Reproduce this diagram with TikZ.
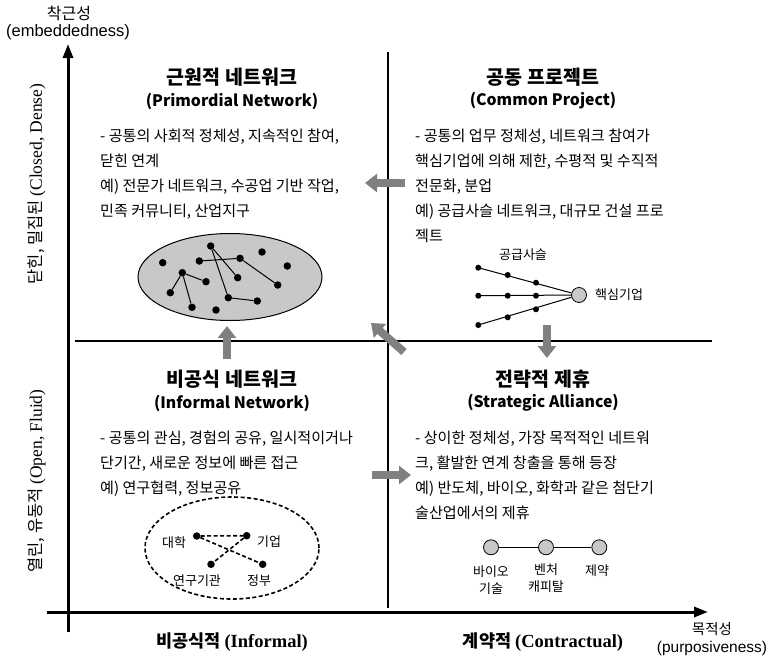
\documentclass[tikz,border=0pt]{standalone}
\usepackage{fontspec}
\setmainfont{Noto Sans CJK KR}
\newfontfamily\kr{Noto Sans CJK KR}
\newfontfamily\tms{Liberation Serif}
\newfontfamily\ars{Liberation Sans}
\usetikzlibrary{arrows.meta,shapes.geometric}
\definecolor{blkgray}{HTML}{808080}
\definecolor{fillgray}{HTML}{C8C8C8}
\tikzset{
  axisline/.style={line width=3pt},
  divline/.style={line width=1.1pt},
  ttlk/.style={font=\kr\bfseries\fontsize{19.5}{22}\selectfont, inner sep=0pt},
  ttle/.style={font=\kr\bfseries\fontsize{15.8}{18}\selectfont, inner sep=0pt},
  body/.style={font=\kr\fontsize{15.1}{25}\selectfont, align=left, anchor=north west, inner sep=0pt},
  dot/.style={circle, fill=black, inner sep=0pt, minimum size=7.5pt},
  sdot/.style={circle, fill=black, inner sep=0pt, minimum size=6pt},
  bigc/.style={circle, draw=black, fill=fillgray, line width=0.8pt, inner sep=0pt, minimum size=15pt},
  small/.style={font=\kr\fontsize{13}{16.5}\selectfont, inner sep=0pt, align=center},
  blockarrow/.style={draw=blkgray, line width=8pt, -{Triangle[width=18pt,length=12pt]}},
  edge/.style={line width=1pt},
  dedge/.style={line width=1.6pt, dash pattern=on 4pt off 2.5pt},
}
\begin{document}
\begin{tikzpicture}[x=1pt,y=-1pt]
\useasboundingbox (0,0) rectangle (772,659);

% axes
\coordinate (yb) at (68,632);
\coordinate (yt) at (68,44);
\coordinate (xl) at (47,612);
\coordinate (xr) at (708,612);
\draw[axisline, -{Triangle[width=10pt,length=14pt]}] (yb) -- (yt);
\draw[axisline, -{Triangle[width=10pt,length=14pt]}] (xl) -- (xr);

% dividers
\coordinate (vt) at (388,52);
\coordinate (vb) at (388,608);
\coordinate (hl) at (75,341);
\coordinate (hr) at (712,341);
\draw[divline] (vt) -- (vb);
\draw[divline] (hl) -- (hr);

% axis labels
\node[font=\kr\fontsize{16}{18}\selectfont, inner sep=0pt] (ylab1) at (69,13) {착근성};
\node[font=\ars\fontsize{16.5}{18}\selectfont, inner sep=0pt] (ylab2) at (68,32) {(embeddedness)};
\node[font=\kr\fontsize{14.5}{17}\selectfont, inner sep=0pt] (xlab1) at (712,629) {목적성};
\node[font=\ars\fontsize{15.5}{18}\selectfont, inner sep=0pt] (xlab2) at (712,648) {(purposiveness)};
\node[rotate=90, inner sep=0pt] (closed) at (37,184) {\kr\fontsize{16.5}{18}\selectfont 닫힌, 밀집된 \tms\fontsize{17.5}{18}\selectfont (Closed, Dense)};
\node[rotate=90, inner sep=0pt] (open) at (37,481) {\kr\fontsize{16.5}{18}\selectfont 열린, 유동적 \tms\fontsize{17.5}{18}\selectfont (Open, Fluid)};
\node[inner sep=0pt] (informal) at (232,642) {\kr\bfseries\fontsize{17.5}{19}\selectfont 비공식적 \tms\bfseries\fontsize{18.5}{19}\selectfont (Informal)};
\node[inner sep=0pt] (contract) at (543,642) {\kr\bfseries\fontsize{17.5}{19}\selectfont 계약적 \tms\bfseries\fontsize{18.5}{19}\selectfont (Contractual)};

% quadrant titles
\node[ttlk] (t1a) at (232,77) {근원적 네트워크};
\node[ttle] (t1b) at (232,101) {(Primordial Network)};
\node[ttlk] (t2a) at (543,77) {공동 프로젝트};
\node[ttle] (t2b) at (543,101) {(Common Project)};
\node[ttlk] (t3a) at (232,379) {비공식 네트워크};
\node[ttle] (t3b) at (232,403) {(Informal Network)};
\node[ttlk] (t4a) at (543,379) {전략적 제휴};
\node[ttle] (t4b) at (543,403) {(Strategic Alliance)};

% bodies
\node[body] (b1) at (100,129) {- 공통의 사회적 정체성, 지속적인 참여,\\닫힌 연계\\예) 전문가 네트워크, 수공업 기반 작업,\\민족 커뮤니티, 산업지구};
\node[body] (b2) at (415,129) {- 공통의 업무 정체성, 네트워크 참여가\\핵심기업에 의해 제한, 수평적 및 수직적\\전문화, 분업\\예) 공급사슬 네트워크, 대규모 건설 프로\\젝트};
\node[body] (b3) at (100,431) {- 공통의 관심, 경험의 공유, 일시적이거나\\단기간, 새로운 정보에 빠른 접근\\예) 연구협력, 정보공유};
\node[body] (b4) at (415,431) {- 상이한 정체성, 가장 목적적인 네트워\\크, 활발한 연계 창출을 통해 등장\\예) 반도체, 바이오, 화학과 같은 첨단기\\술산업에서의 제휴};

% primordial network ellipse
\node[ellipse, draw=black, fill=fillgray, line width=1pt, minimum width=184pt, minimum height=87pt, inner sep=0pt] (ell1) at (230,277) {};
\node[dot] (p1) at (210.7,246) {};
\node[dot] (p2) at (162.7,262.7) {};
\node[dot] (p3) at (199.3,261) {};
\node[dot] (p4) at (240,258.3) {};
\node[dot] (p5) at (262,252) {};
\node[dot] (p6) at (287.3,266) {};
\node[dot] (p7) at (182.3,272.7) {};
\node[dot] (p8) at (206,281.7) {};
\node[dot] (p9) at (237.7,277.7) {};
\node[dot] (p10) at (277.7,285) {};
\node[dot] (p11) at (170.3,292.7) {};
\node[dot] (p12) at (228.3,297.7) {};
\node[dot] (p13) at (257.3,301) {};
\node[dot] (p14) at (192,307.3) {};
\node[dot] (p15) at (216,310) {};
\draw[edge] (p1) -- (p12);
\draw[edge] (p1) -- (p9);
\draw[edge] (p3) -- (p4);
\draw[edge] (p4) -- (p10);
\draw[edge] (p7) -- (p8);
\draw[edge] (p7) -- (p11);
\draw[edge] (p7) -- (p14);
\draw[edge] (p12) -- (p13);

% supply chain
\node[small] (sclab) at (523,255) {공급사슬};
\node[bigc] (core) at (579,295) {};
\node[small, anchor=west] (corelab) at (595,295) {핵심기업};
\node[sdot] (s11) at (478.3,267.7) {};
\node[sdot] (s12) at (507.7,275) {};
\node[sdot] (s13) at (536,282.7) {};
\node[sdot] (s21) at (478.3,295.7) {};
\node[sdot] (s22) at (507.7,295.7) {};
\node[sdot] (s23) at (536,295.7) {};
\node[sdot] (s31) at (478.3,325) {};
\node[sdot] (s32) at (507.7,317.3) {};
\node[sdot] (s33) at (536,309.3) {};
\draw[edge] (s11.center) -- (core);
\draw[edge] (s21.center) -- (core);
\draw[edge] (s31.center) -- (core);

% informal network
\node[ellipse, draw=black, dedge, minimum width=174pt, minimum height=102pt, inner sep=0pt] (ell2) at (232,548) {};
\node[dot] (d1) at (196.7,536) {};
\node[dot] (d2) at (246.7,535.7) {};
\node[dot] (d3) at (211,564.3) {};
\node[dot] (d4) at (262.7,564.3) {};
\draw[dedge] (d1) -- (d2);
\draw[dedge] (d1) -- (d4);
\draw[dedge] (d2) -- (d3);
\node[small] (l1) at (174,543) {대학};
\node[small] (l2) at (269,542) {기업};
\node[small] (l3) at (197,581) {연구기관};
\node[small] (l4) at (259,581) {정부};

% strategic alliance
\node[bigc] (a1) at (491,547.3) {};
\node[bigc] (a2) at (546,547.3) {};
\node[bigc] (a3) at (599.3,547.3) {};
\draw[edge] (a1) -- (a2);
\draw[edge] (a2) -- (a3);
\node[small] (al1) at (491,580) {바이오\\기술};
\node[small] (al2) at (546,578) {벤처\\캐피탈};
\node[small] (al3) at (597,571) {제약};

% block arrows
\coordinate (ar1s) at (405,183);
\coordinate (ar1e) at (365,183);
\draw[blockarrow] (ar1s) -- (ar1e);
\coordinate (ar2s) at (404,352);
\coordinate (ar2e) at (371,323);
\draw[blockarrow] (ar2s) -- (ar2e);
\coordinate (ar3s) at (547,325);
\coordinate (ar3e) at (547,358);
\draw[blockarrow] (ar3s) -- (ar3e);
\coordinate (ar4s) at (227,359);
\coordinate (ar4e) at (227,326);
\draw[blockarrow] (ar4s) -- (ar4e);
\coordinate (ar5s) at (372,475);
\coordinate (ar5e) at (411,475);
\draw[blockarrow] (ar5s) -- (ar5e);
\end{tikzpicture}
\end{document}
